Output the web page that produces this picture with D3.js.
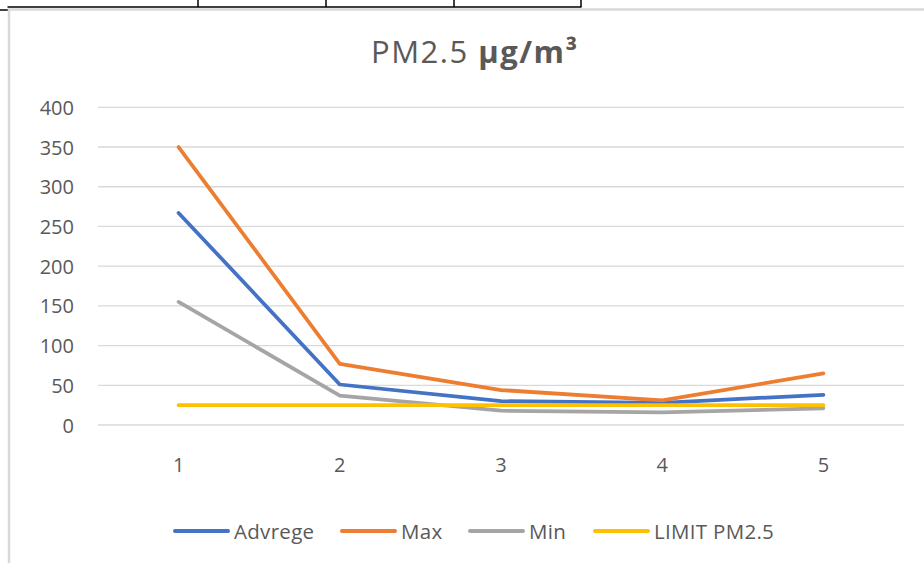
<!DOCTYPE html>
<html>
<head>
<meta charset="utf-8">
<script src="https://cdn.jsdelivr.net/npm/d3@7"></script>
<style>
  body { margin: 0; background: #fff; }
  svg { display: block; font-family: "Open Sans", sans-serif; }
</style>
</head>
<body>
<div id="chart"></div>
<script>
// values
var categories = ["1", "2", "3", "4", "5"];
var yTicks = [0, 50, 100, 150, 200, 250, 300, 350, 400];
var seriesNames = ["Advrege", "Max", "Min", "LIMIT PM2.5"];
var advrege = [267, 51, 30, 28, 38];
var maxVals = [350, 77, 44, 31, 65];
var minVals = [155, 37, 18, 16, 21];
var limitVals = [25, 25, 25, 25, 25];
var colors = ["#4472C4", "#ED7D31", "#A5A5A5", "#FFC000"];

var W = 924, H = 563;
var svg = d3.select("#chart").append("svg").attr("width", W).attr("height", H);

// table fragment above the chart
var tbl = svg.append("g").attr("stroke", "#000").attr("stroke-width", 1.5);
tbl.append("line").attr("x1", 7.5).attr("x2", 581.5).attr("y1", 7).attr("y2", 7);
tbl.append("line").attr("x1", 0).attr("x2", 8).attr("y1", 10).attr("y2", 10);
[198, 326, 454, 581].forEach(function (x) {
  tbl.append("line").attr("x1", x).attr("x2", x).attr("y1", 0).attr("y2", 7);
});

// chart frame
svg.append("rect")
   .attr("x", 9).attr("y", 9.5)
   .attr("width", W + 20).attr("height", H + 20)
   .attr("fill", "none").attr("stroke", "#d9d9d9").attr("stroke-width", 2.5);

var x = d3.scaleBand().domain(categories).range([98, 904]);
var y = d3.scaleLinear().domain([0, 400]).range([425, 107.3]);
var cx = function (c) { return x(c) + x.bandwidth() / 2; };

// gridlines
svg.append("g").selectAll("line").data(yTicks).join("line")
   .attr("x1", 98).attr("x2", 904)
   .attr("y1", function (d) { return y(d); })
   .attr("y2", function (d) { return y(d); })
   .attr("stroke", "#d9d9d9").attr("stroke-width", 1.3);

// y tick labels
svg.append("g").selectAll("text").data(yTicks).join("text")
   .attr("x", 74).attr("y", function (d) { return y(d) + 7.5; })
   .attr("text-anchor", "end").attr("font-size", 20).attr("fill", "#595959")
   .text(function (d) { return d; });

// x tick labels
svg.append("g").selectAll("text").data(categories).join("text")
   .attr("x", function (d) { return cx(d); }).attr("y", 472)
   .attr("text-anchor", "middle").attr("font-size", 20).attr("fill", "#595959")
   .text(function (d) { return d; });

// series lines
var allSeries = [advrege, maxVals, minVals, limitVals];
var line = d3.line()
  .x(function (d, i) { return cx(categories[i]); })
  .y(function (d) { return y(d); });

allSeries.forEach(function (vals, i) {
  svg.append("path")
     .datum(vals)
     .attr("d", line)
     .attr("fill", "none")
     .attr("stroke", colors[i])
     .attr("stroke-width", 3.75)
     .attr("stroke-linecap", "round")
     .attr("stroke-linejoin", "round");
});

// title
var title = svg.append("text")
   .attr("x", 371).attr("y", 63)
   .attr("font-size", 31).attr("letter-spacing", 1.5).attr("fill", "#595959");
title.append("tspan").text("PM2.5 ");
title.append("tspan").attr("font-weight", "bold").text("µg/m³");

// legend
var legendX = [175, 342, 470, 595];
var lg = svg.append("g").selectAll("g").data(seriesNames).join("g")
   .attr("transform", function (d, i) { return "translate(" + legendX[i] + ",531)"; });
lg.append("line")
  .attr("x1", 0).attr("x2", 53).attr("y1", 0).attr("y2", 0)
  .attr("stroke", function (d, i) { return colors[i]; })
  .attr("stroke-width", 4).attr("stroke-linecap", "round");
lg.append("text")
  .attr("x", 59).attr("y", 7.5)
  .attr("font-size", 20.5).attr("letter-spacing", 0.3).attr("fill", "#595959")
  .text(function (d) { return d; });
</script>
</body>
</html>
